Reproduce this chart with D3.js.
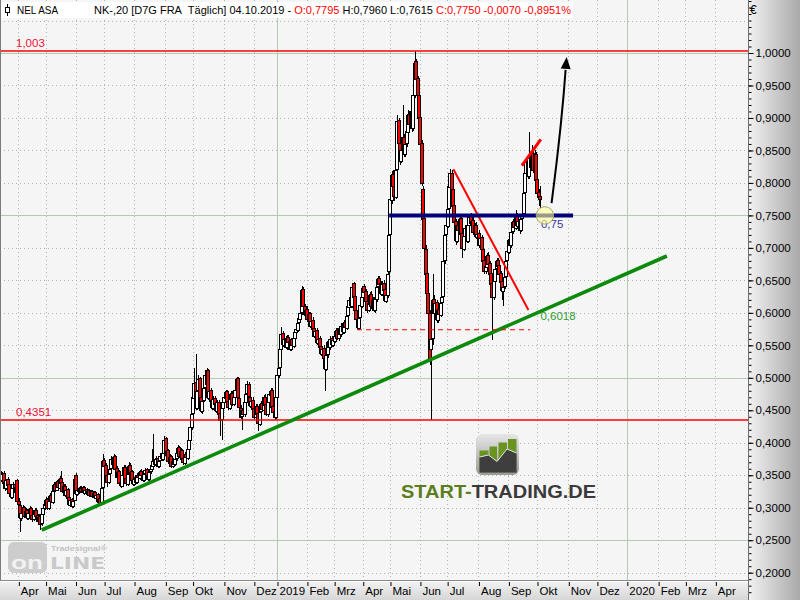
<!DOCTYPE html>
<html><head><meta charset="utf-8">
<script src="https://cdn.jsdelivr.net/npm/d3@7/dist/d3.min.js"></script>
<style>body{margin:0;background:#fff}svg{display:block}</style>
</head><body>
<svg id="c" width="800" height="600"></svg>
<script>
// ---------------- DATA ----------------
const startDate = "2018-03-14";
const endDate = "2020-05-01";
const holidays = ["2018-03-30","2018-04-02","2018-05-01","2018-12-24","2018-12-25","2018-12-26","2018-12-31",
  "2019-01-01","2019-04-19","2019-04-22","2019-05-01"];

const opens = [
 0.352,0.343,0.353,0.340,0.330,0.344,0.336,0.323,0.317,0.331,0.337,0.324,
 0.342,0.311,0.304,0.284,0.293,0.301,0.287,0.296,0.284,0.293,0.299,0.289,0.282,0.291,0.297,0.289,0.279,0.287,0.276,0.291,
 0.299,0.304,0.313,0.299,0.311,0.319,0.309,0.326,0.336,0.327,0.341,0.331,0.346,0.339,0.324,0.334,0.319,0.329,0.316,0.304,0.313,0.302,
 0.312,0.350,0.321,0.329,0.324,0.331,0.325,0.332,0.323,0.329,0.321,0.327,0.319,0.326,0.317,0.324,0.315,0.321,0.309,0.315,0.307,
 0.332,0.373,0.366,0.351,0.339,0.353,0.361,0.376,0.367,0.379,0.361,0.347,0.356,0.339,0.334,0.351,0.363,0.346,0.337,0.353,0.366,0.356,
 0.343,0.337,0.346,0.339,0.351,0.346,0.356,0.351,0.342,0.353,0.359,0.351,0.344,0.356,0.359,0.365,0.373,0.367,0.376,0.364,0.373,0.381,0.375,
 0.385,0.407,0.381,0.389,0.371,0.379,0.364,0.373,0.367,0.376,0.384,0.393,0.379,0.389,0.376,0.369,0.383,0.377,0.391,0.404,
 0.425,0.446,0.469,0.494,0.454,0.481,0.499,0.471,0.449,0.466,0.486,0.490,0.512,0.469,0.481,0.466,0.454,0.469,0.461,0.449,0.463,0.446,0.436,
 0.454,0.463,0.469,0.479,0.464,0.454,0.469,0.476,0.459,0.471,0.483,0.500,0.469,0.454,0.441,0.451,0.444,0.463,0.476,0.491,0.471,0.457,
 0.466,0.453,0.439,0.456,0.446,0.429,0.449,0.461,0.451,0.471,0.459,0.444,0.463,0.474,0.481,0.456,0.449,
 0.440,0.471,0.504,0.516,0.544,0.569,0.551,0.561,0.547,0.563,0.556,0.544,0.559,0.549,0.561,0.571,0.574,0.586,0.591,0.601,0.636,0.611,
 0.597,0.606,0.589,0.599,0.579,0.589,0.576,0.564,0.573,0.554,0.561,0.549,0.537,0.546,0.531,0.514,0.536,0.556,0.547,0.561,
 0.551,0.557,0.566,0.573,0.561,0.576,0.567,0.581,0.571,0.586,0.577,0.596,0.609,0.621,0.611,0.646,0.626,0.604,0.591,0.577,0.593,
 0.611,0.624,0.642,0.633,0.619,0.604,0.614,0.629,0.609,0.621,0.604,0.621,0.641,0.653,0.646,0.629,0.646,0.636,0.619,0.627,
 0.665,0.721,0.774,0.814,0.796,0.779,0.822,0.897,0.861,0.834,0.851,0.871,0.844,0.861,0.879,0.906,0.889,0.911,0.884,0.936,0.987,0.961,
 0.936,0.901,0.861,0.790,0.746,0.699,0.661,0.631,0.599,0.545,0.561,0.621,0.599,0.616,0.589,0.606,0.597,0.616,0.626,0.681,
 0.721,0.734,0.761,0.794,0.816,0.791,0.766,0.741,0.711,0.736,0.727,0.746,0.723,0.699,0.719,0.731,0.711,0.736,0.749,0.737,0.743,0.724,0.736,
 0.717,0.723,0.704,0.716,0.699,0.681,0.664,0.671,0.689,0.676,0.661,0.646,0.624,0.649,0.669,0.681,0.673,0.661,0.649,0.634,0.641,0.656,
 0.681,0.694,0.713,0.704,0.726,0.741,0.731,0.749,0.734,0.743,0.727,0.746,0.753,0.786,0.816,0.833,0.811,0.839,0.824,0.846,0.819,
 0.845,0.806,0.786,0.7795];
const highs = [
 0.356,0.355,0.356,0.342,0.345,0.347,0.338,0.326,0.333,0.340,0.339,0.336,
 0.345,0.315,0.307,0.296,0.304,0.303,0.299,0.298,0.295,0.302,0.301,0.292,0.294,0.300,0.299,0.291,0.290,0.289,0.294,0.304,
 0.309,0.316,0.315,0.313,0.322,0.321,0.328,0.339,0.338,0.343,0.344,0.349,0.356,0.341,0.336,0.336,0.331,0.331,0.318,0.315,0.315,0.313,
 0.348,0.353,0.331,0.332,0.334,0.333,0.334,0.334,0.331,0.331,0.329,0.329,0.328,0.328,0.326,0.326,0.323,0.323,0.317,0.318,0.334,
 0.382,0.376,0.369,0.354,0.356,0.364,0.380,0.379,0.383,0.381,0.364,0.359,0.358,0.342,0.354,0.366,0.366,0.349,0.356,0.370,0.369,0.358,
 0.346,0.348,0.349,0.353,0.354,0.358,0.359,0.353,0.355,0.361,0.361,0.353,0.358,0.363,0.390,0.414,0.377,0.379,0.379,0.375,0.384,0.385,0.389,
 0.410,0.409,0.392,0.391,0.382,0.381,0.376,0.375,0.379,0.389,0.396,0.395,0.392,0.391,0.379,0.386,0.385,0.394,0.409,0.430,
 0.450,0.476,0.515,0.537,0.486,0.505,0.502,0.474,0.470,0.490,0.510,0.515,0.514,0.485,0.484,0.469,0.472,0.472,0.464,0.466,0.466,0.449,0.459,
 0.466,0.474,0.482,0.482,0.468,0.471,0.479,0.479,0.473,0.486,0.502,0.502,0.472,0.458,0.454,0.454,0.466,0.479,0.495,0.494,0.474,0.469,
 0.470,0.457,0.459,0.460,0.449,0.452,0.464,0.465,0.474,0.475,0.462,0.466,0.479,0.484,0.485,0.460,0.452,
 0.474,0.509,0.519,0.550,0.578,0.572,0.565,0.564,0.566,0.566,0.559,0.562,0.562,0.566,0.574,0.580,0.589,0.596,0.605,0.642,0.640,0.614,
 0.610,0.610,0.602,0.602,0.592,0.593,0.580,0.576,0.577,0.564,0.565,0.553,0.549,0.550,0.535,0.539,0.559,0.560,0.564,0.565,
 0.562,0.569,0.576,0.577,0.579,0.580,0.584,0.585,0.589,0.590,0.599,0.614,0.624,0.625,0.644,0.648,0.629,0.608,0.594,0.596,0.616,
 0.629,0.642,0.645,0.636,0.622,0.619,0.632,0.633,0.624,0.625,0.626,0.644,0.656,0.657,0.649,0.649,0.650,0.639,0.632,0.664,
 0.728,0.782,0.818,0.820,0.800,0.826,0.905,0.900,0.866,0.856,0.920,0.876,0.866,0.886,0.912,0.910,0.917,0.915,0.942,1.003,0.990,0.965,
 0.940,0.910,0.866,0.795,0.752,0.705,0.668,0.640,0.604,0.570,0.660,0.628,0.622,0.620,0.610,0.612,0.619,0.630,0.686,0.728,
 0.740,0.765,0.800,0.822,0.820,0.795,0.770,0.745,0.740,0.740,0.750,0.750,0.727,0.722,0.735,0.735,0.739,0.752,0.753,0.746,0.747,0.739,0.740,
 0.727,0.727,0.719,0.720,0.703,0.686,0.676,0.692,0.693,0.680,0.665,0.650,0.654,0.672,0.684,0.685,0.676,0.665,0.652,0.645,0.660,0.684,
 0.699,0.716,0.717,0.729,0.744,0.745,0.758,0.753,0.746,0.747,0.749,0.756,0.790,0.820,0.838,0.836,0.878,0.842,0.858,0.850,0.850,
 0.848,0.810,0.790,0.796];
const lows = [
 0.340,0.340,0.335,0.325,0.328,0.332,0.318,0.314,0.314,0.328,0.322,0.321,
 0.306,0.300,0.262,0.280,0.290,0.284,0.284,0.281,0.281,0.290,0.284,0.278,0.279,0.288,0.285,0.276,0.276,0.266,0.272,0.287,
 0.296,0.301,0.297,0.296,0.308,0.307,0.306,0.322,0.325,0.325,0.329,0.329,0.335,0.322,0.321,0.317,0.316,0.312,0.302,0.301,0.299,0.299,
 0.310,0.319,0.318,0.321,0.322,0.323,0.323,0.320,0.321,0.319,0.319,0.317,0.317,0.315,0.314,0.313,0.312,0.306,0.306,0.303,0.305,
 0.330,0.362,0.347,0.332,0.336,0.349,0.358,0.364,0.364,0.357,0.344,0.344,0.335,0.330,0.332,0.348,0.342,0.334,0.334,0.350,0.352,0.338,
 0.333,0.334,0.337,0.336,0.344,0.343,0.347,0.339,0.339,0.350,0.347,0.341,0.341,0.352,0.355,0.362,0.364,0.364,0.361,0.361,0.370,0.372,0.372,
 0.381,0.379,0.377,0.368,0.367,0.361,0.361,0.364,0.364,0.372,0.381,0.376,0.376,0.371,0.366,0.366,0.374,0.374,0.388,0.400,
 0.420,0.441,0.465,0.450,0.450,0.476,0.466,0.446,0.445,0.462,0.482,0.487,0.466,0.466,0.461,0.451,0.451,0.457,0.446,0.446,0.440,0.410,0.404,
 0.450,0.459,0.466,0.461,0.450,0.451,0.465,0.456,0.456,0.468,0.480,0.466,0.451,0.436,0.420,0.440,0.440,0.460,0.472,0.468,0.453,0.453,
 0.448,0.436,0.436,0.441,0.418,0.426,0.445,0.448,0.448,0.454,0.441,0.440,0.460,0.470,0.451,0.444,0.435,
 0.436,0.466,0.500,0.512,0.540,0.548,0.548,0.544,0.543,0.551,0.541,0.541,0.546,0.546,0.557,0.566,0.571,0.582,0.588,0.597,0.605,0.593,
 0.592,0.586,0.585,0.576,0.575,0.571,0.561,0.560,0.551,0.551,0.544,0.534,0.533,0.526,0.480,0.510,0.531,0.544,0.543,0.548,
 0.547,0.553,0.562,0.558,0.557,0.564,0.563,0.568,0.567,0.574,0.573,0.592,0.605,0.608,0.607,0.621,0.601,0.586,0.574,0.574,0.589,
 0.607,0.620,0.628,0.614,0.600,0.601,0.611,0.606,0.605,0.601,0.600,0.617,0.637,0.641,0.626,0.626,0.631,0.616,0.615,0.623,
 0.660,0.715,0.768,0.790,0.772,0.775,0.818,0.855,0.828,0.830,0.846,0.840,0.840,0.856,0.875,0.884,0.884,0.878,0.880,0.930,0.952,0.928,
 0.895,0.855,0.795,0.740,0.694,0.655,0.622,0.592,0.520,0.4351,0.550,0.594,0.594,0.585,0.584,0.592,0.593,0.611,0.620,0.675,
 0.716,0.730,0.755,0.789,0.785,0.760,0.735,0.705,0.707,0.723,0.722,0.717,0.685,0.695,0.714,0.707,0.707,0.731,0.733,0.733,0.720,0.720,0.713,
 0.712,0.700,0.700,0.694,0.675,0.660,0.660,0.667,0.670,0.655,0.640,0.558,0.620,0.645,0.664,0.668,0.655,0.643,0.620,0.610,0.636,0.651,
 0.677,0.690,0.700,0.700,0.722,0.727,0.727,0.731,0.730,0.722,0.724,0.741,0.749,0.780,0.810,0.806,0.806,0.820,0.820,0.815,0.815,
 0.800,0.780,0.765,0.7615];
const closes = [
 0.345,0.352,0.338,0.330,0.342,0.335,0.322,0.318,0.330,0.336,0.325,0.332,
 0.310,0.305,0.285,0.292,0.300,0.288,0.295,0.285,0.292,0.298,0.288,0.283,0.290,0.296,0.288,0.280,0.286,0.275,0.290,0.300,
 0.305,0.312,0.300,0.310,0.318,0.310,0.325,0.335,0.328,0.340,0.332,0.345,0.338,0.325,0.333,0.320,0.328,0.315,0.305,0.312,0.303,0.310,
 0.345,0.322,0.328,0.325,0.330,0.326,0.331,0.324,0.328,0.322,0.326,0.320,0.325,0.318,0.323,0.316,0.320,0.310,0.314,0.308,0.330,
 0.372,0.365,0.350,0.340,0.352,0.360,0.375,0.368,0.378,0.360,0.348,0.355,0.338,0.335,0.350,0.362,0.345,0.338,0.352,0.365,0.355,0.342,
 0.338,0.345,0.340,0.350,0.347,0.355,0.350,0.343,0.352,0.358,0.350,0.345,0.355,0.360,0.366,0.372,0.368,0.375,0.365,0.372,0.380,0.376,0.385,
 0.405,0.382,0.388,0.372,0.378,0.365,0.372,0.368,0.375,0.385,0.392,0.380,0.388,0.375,0.370,0.382,0.378,0.390,0.405,0.425,
 0.445,0.470,0.492,0.455,0.480,0.498,0.470,0.450,0.465,0.485,0.505,0.512,0.470,0.480,0.465,0.455,0.468,0.460,0.450,0.462,0.445,0.435,0.455,
 0.462,0.470,0.478,0.465,0.455,0.468,0.475,0.460,0.470,0.482,0.498,0.470,0.455,0.440,0.450,0.445,0.462,0.475,0.490,0.472,0.458,0.465,
 0.452,0.440,0.455,0.445,0.430,0.448,0.460,0.452,0.470,0.458,0.445,0.462,0.475,0.480,0.455,0.448,0.440,
 0.470,0.505,0.515,0.545,0.568,0.552,0.560,0.548,0.562,0.555,0.545,0.558,0.550,0.562,0.570,0.575,0.585,0.592,0.600,0.635,0.610,0.598,
 0.605,0.590,0.598,0.580,0.588,0.575,0.565,0.572,0.555,0.560,0.548,0.538,0.545,0.530,0.515,0.535,0.555,0.548,0.560,0.552,
 0.558,0.565,0.572,0.562,0.575,0.568,0.580,0.572,0.585,0.578,0.595,0.610,0.620,0.612,0.640,0.625,0.605,0.590,0.578,0.592,0.612,
 0.625,0.638,0.632,0.618,0.605,0.615,0.628,0.610,0.620,0.605,0.622,0.640,0.652,0.645,0.630,0.645,0.635,0.620,0.628,0.660,
 0.720,0.775,0.812,0.795,0.780,0.820,0.895,0.862,0.835,0.850,0.870,0.845,0.860,0.880,0.905,0.890,0.910,0.885,0.935,0.985,0.960,0.935,
 0.900,0.860,0.800,0.745,0.700,0.660,0.630,0.600,0.530,0.560,0.620,0.600,0.615,0.590,0.605,0.598,0.615,0.625,0.680,0.720,
 0.735,0.760,0.795,0.815,0.790,0.765,0.740,0.712,0.735,0.728,0.745,0.722,0.700,0.718,0.730,0.712,0.735,0.748,0.738,0.742,0.725,0.735,0.718,
 0.722,0.705,0.715,0.698,0.680,0.665,0.672,0.688,0.675,0.660,0.645,0.625,0.650,0.668,0.680,0.672,0.660,0.648,0.635,0.640,0.655,0.680,
 0.695,0.712,0.705,0.725,0.740,0.732,0.748,0.735,0.742,0.728,0.745,0.752,0.785,0.815,0.832,0.812,0.838,0.825,0.845,0.820,0.845,
 0.805,0.785,0.778,0.775];

const monthKeys = ["2018-04","2018-05","2018-06","2018-07","2018-08","2018-09","2018-10","2018-11","2018-12",
  "2019-01","2019-02","2019-03","2019-04","2019-05","2019-06","2019-07","2019-08","2019-09","2019-10","2019-11","2019-12",
  "2020-01","2020-02","2020-03","2020-04"];
const monthLabels = ["Apr","Mai","Jun","Jul","Aug","Sep","Okt","Nov","Dez","2019","Feb","Mrz","Apr","Mai","Jun","Jul",
  "Aug","Sep","Okt","Nov","Dez","2020","Feb","Mrz","Apr"];
const yearKeys = ["2019-01","2020-01"];
const priceTicks = [0.20,0.25,0.30,0.35,0.40,0.45,0.50,0.55,0.60,0.65,0.70,0.75,0.80,0.85,0.90,0.95,1.00];
const solidLevels = [0.25,0.50,0.75,1.00];

// annotations: [tradingDayIndex, price]
const hLevels = [1.003, 0.4351];
const hLevelLabels = ["1,003","0,4351"];
const supportLine = [[284.4,0.75],[419.5,0.75]];
const supportLabel = "0,75";
const trendLine = [[29.2,0.2657],[488.4,0.6875]];
const trendLabelAt = [395.5,0.6018];
const trendLabel = "0,6018";
const dashedLine = [[260.8,0.574],[388,0.574]];
const downLine = [[331.6,0.821],[386.7,0.6044]];
const topLine = [[381.9,0.8265],[395.8,0.867]];
const arrowPath = [[403.7,0.769],[406.3,0.812],[408.5,0.851],[410.7,0.894],[412.6,0.935],[414.0,0.974],[414.8,0.994]];
const circleAt = [398.8,0.75];

const header = {name:"NEL ASA", pre:"NK-,20 [D7G FRA\u00a0 Täglich] 04.10.2019 - ", o:"O:0,7795", mid:" H:0,7960 L:0,7615 ", c:"C:0,7750 -0,0070 -0,8951%"};

// ---------------- CALENDAR ----------------
const hol = new Set(holidays);
const days = [];
for (let t = Date.parse(startDate+"T00:00:00Z"); t < Date.parse(endDate+"T00:00:00Z"); t += 864e5) {
  const d = new Date(t), wd = d.getUTCDay(), s = d.toISOString().slice(0,10);
  if (wd > 0 && wd < 6 && !hol.has(s)) days.push(s);
}
const idxOfMonth = k => days.findIndex(s => s.startsWith(k));

// ---------------- SCALES ----------------
const W = 800, H = 600, plotR = 748, plotB = 580;
const xs = d3.scaleLinear().domain([0, 548]).range([2, 748]);
const ys = d3.scaleLinear().domain([0.2, 1.0]).range([572.7, 53]);
const fmt4 = v => d3.format(".4f")(v).replace(".", ",");
const FONT = "Liberation Sans, Arial, sans-serif";

const svg = d3.select("#c");
const defs = svg.append("defs");
const gr = defs.append("linearGradient").attr("id","rg").attr("x1","0").attr("x2","1").attr("y1","0").attr("y2","0");
gr.append("stop").attr("offset","0").attr("stop-color","#f2f2f2");
gr.append("stop").attr("offset","1").attr("stop-color","#a9a9a9");
const gb = defs.append("linearGradient").attr("id","bg2").attr("x1","0").attr("x2","0").attr("y1","0").attr("y2","1");
gb.append("stop").attr("offset","0").attr("stop-color","#f4f4f4");
gb.append("stop").attr("offset","1").attr("stop-color","#d6d6d6");
const gi = defs.append("linearGradient").attr("id","ig").attr("x1","0").attr("x2","0").attr("y1","0").attr("y2","1");
gi.append("stop").attr("offset","0").attr("stop-color","#e6e6e6");
gi.append("stop").attr("offset","1").attr("stop-color","#9a9a9a");
defs.append("clipPath").attr("id","clip").append("rect").attr("x",0).attr("y",0).attr("width",plotR).attr("height",plotB);

// backgrounds
svg.append("rect").attr("width",W).attr("height",H).attr("fill","#f5f5f5");
svg.append("rect").attr("x",plotR).attr("y",0).attr("width",W-plotR).attr("height",H).attr("fill","url(#rg)");
svg.append("rect").attr("x",0).attr("y",plotB).attr("width",plotR).attr("height",H-plotB).attr("fill","url(#bg2)");

const plot = svg.append("g").attr("clip-path","url(#clip)");
const crisp = v => Math.round(v) + 0.5;

// grid horizontals
const gridVals = d3.range(4, 22).map(k => +(k*0.05).toFixed(2));
plot.selectAll("line.hg").data(gridVals).join("line")
  .attr("x1",0).attr("x2",plotR).attr("y1",d=>crisp(ys(d))).attr("y2",d=>crisp(ys(d)))
  .attr("stroke", d => solidLevels.includes(d) ? "#b3cbb3" : "#a6baa6")
  .attr("stroke-dasharray", d => solidLevels.includes(d) ? null : "1,3");
// grid verticals
const mIdx = monthKeys.map(idxOfMonth);
plot.selectAll("line.vg").data(monthKeys).join("line")
  .attr("x1",(d,i)=>crisp(xs(mIdx[i]))).attr("x2",(d,i)=>crisp(xs(mIdx[i]))).attr("y1",0).attr("y2",plotB)
  .attr("stroke", d => yearKeys.includes(d) ? "#b3cbb3" : "#a6baa6")
  .attr("stroke-dasharray", d => yearKeys.includes(d) ? null : "1,3");

// watermarks
const wm = plot.append("g");
wm.append("rect").attr("x",476).attr("y",434).attr("width",43).attr("height",41).attr("rx",6).attr("fill","url(#ig)");
[[479.5,488.5,450.5],[489.5,497,446.5],[498.5,507,442.5],[508,516.5,439]].forEach(b=>{
  wm.append("rect").attr("x",b[0]).attr("y",b[2]).attr("width",b[1]-b[0]).attr("height",472.5-b[2]).attr("fill","#6a9420");
});
wm.append("path").attr("d","M479.5,457 L488.5,455 L497,461.5 L507,449 L516.5,453 L516.5,472.5 L479.5,472.5 Z").attr("fill","#3e3e3e");
wm.append("path").attr("d","M479.5,457 L488.5,455 L497,461.5 L507,449 L516.5,453").attr("fill","none").attr("stroke","#e8e8e8").attr("stroke-width",1);
const st = wm.append("text").attr("x",401).attr("y",497.5).attr("font-family",FONT)
  .attr("font-weight","bold").attr("font-size",19).attr("textLength",195).attr("lengthAdjust","spacingAndGlyphs");
st.append("tspan").attr("fill","#5b7d1c").text("START-");
st.append("tspan").attr("fill","#3a3a3a").text("TRADING.DE");
// tradesignal logo
wm.append("rect").attr("x",8).attr("y",542).attr("width",39).attr("height",31).attr("rx",6).attr("fill","#cdcdcd");
wm.append("text").attr("x",11).attr("y",569).attr("font-family",FONT).attr("font-weight","bold")
  .attr("font-size",19).attr("fill","#f2f2f2").attr("textLength",32).attr("lengthAdjust","spacingAndGlyphs").text("on");
wm.append("text").attr("x",50).attr("y",569).attr("font-family","DejaVu Sans, sans-serif").attr("font-weight","bold")
  .attr("font-size",15).attr("fill","#c9c9c9").attr("textLength",55).attr("lengthAdjust","spacingAndGlyphs").text("LINE");
wm.append("text").attr("x",51).attr("y",551).attr("font-family",FONT).attr("font-weight","bold")
  .attr("font-size",7).attr("fill","#c4c4c4").attr("textLength",56).attr("lengthAdjust","spacingAndGlyphs").text("Tradesignal®");

// candles
const data = closes.map((c,i)=>({i, o:opens[i], h:highs[i], l:lows[i], c}));
const cg = plot.append("g").selectAll("g").data(data).join("g");
cg.append("line")
  .attr("x1",d=>Math.round(xs(d.i))-0.5).attr("x2",d=>Math.round(xs(d.i))-0.5)
  .attr("y1",d=>Math.round(ys(d.h))).attr("y2",d=>Math.round(ys(d.l)))
  .attr("stroke","#000").attr("stroke-width",1);
cg.append("rect")
  .attr("x",d=>Math.round(xs(d.i))-2.5).attr("width",3)
  .attr("y",d=>Math.round(ys(Math.max(d.o,d.c)))+0.5)
  .attr("height",d=>Math.max(1, Math.round(ys(Math.min(d.o,d.c))) - Math.round(ys(Math.max(d.o,d.c)))))
  .attr("fill",d=> d.c < d.o ? "#ff0000" : "#ffffff").attr("stroke","#000").attr("stroke-width",1);

// annotations
const ln = d3.line().x(d=>xs(d[0])).y(d=>ys(d[1]));
plot.selectAll("line.hl").data(hLevels).join("line")
  .attr("x1",0).attr("x2",plotR).attr("y1",d=>ys(d)).attr("y2",d=>ys(d)).attr("stroke","#ff0000").attr("stroke-width",1.6);
plot.selectAll("text.hl").data(hLevels).join("text")
  .attr("x",16).attr("y",d=>ys(d)-4).attr("fill","#ee1133").attr("font-size",11.5)
  .attr("font-family",FONT).text((d,i)=>hLevelLabels[i]);
plot.append("path").attr("d",ln(trendLine)).attr("stroke","#0b8a0b").attr("stroke-width",3.6).attr("fill","none");
plot.append("text").attr("x",xs(trendLabelAt[0])).attr("y",ys(trendLabelAt[1])+8).attr("fill","#2f9e2f")
  .attr("font-size",11.5).attr("font-family",FONT).text(trendLabel);
plot.append("path").attr("d",ln(dashedLine)).attr("stroke","#ff0000").attr("stroke-width",1.2).attr("stroke-dasharray","5,4").attr("fill","none");
plot.append("path").attr("d",ln(downLine)).attr("stroke","#ff0000").attr("stroke-width",2).attr("fill","none");
plot.append("path").attr("d",ln(topLine)).attr("stroke","#ff0000").attr("stroke-width",3).attr("fill","none");
plot.append("path").attr("d",ln(supportLine)).attr("stroke","#00007a").attr("stroke-width",4).attr("fill","none");
plot.append("text").attr("x",xs(circleAt[0])-4).attr("y",ys(circleAt[1])+13).attr("fill","#3a3aa0")
  .attr("font-size",11.5).attr("font-family",FONT).text(supportLabel);
plot.append("circle").attr("cx",xs(circleAt[0])).attr("cy",ys(circleAt[1])).attr("r",8.7)
  .attr("fill","rgba(255,255,150,0.6)").attr("stroke","#a8a870").attr("stroke-width",1);
// arrow
const arrLine = d3.line().x(d=>xs(d[0])).y(d=>ys(d[1])).curve(d3.curveBasis);
plot.append("path").attr("d",arrLine(arrowPath.slice(0,-1))).attr("stroke","#000").attr("stroke-width",2).attr("fill","none");
{
  const a = arrowPath[arrowPath.length-2], b = arrowPath[arrowPath.length-1];
  const ax = xs(a[0]), ay = ys(a[1]), bx = xs(b[0]), by = ys(b[1]);
  const L = Math.hypot(bx-ax, by-ay), ux = (bx-ax)/L, uy = (by-ay)/L;
  const baseX = bx - ux*12, baseY = by - uy*12;
  plot.append("path").attr("d",`M${bx},${by} L${baseX - uy*5},${baseY + ux*5} L${baseX + uy*5},${baseY - ux*5} Z`).attr("fill","#000");
}

// header
const hg = svg.append("g");
hg.append("rect").attr("x",1).attr("y",2).attr("width",572).attr("height",16).attr("fill","#ffffff");
hg.append("line").attr("x1",7.5).attr("x2",7.5).attr("y1",4).attr("y2",16).attr("stroke","#000");
hg.append("rect").attr("x",5.5).attr("y",7.5).attr("width",4).attr("height",5).attr("fill","#fff").attr("stroke","#000");
hg.append("text").attr("x",17).attr("y",14).attr("font-size",11).attr("font-family",FONT)
  .attr("textLength",41).attr("lengthAdjust","spacingAndGlyphs").text(header.name);
const ht = hg.append("text").attr("x",94).attr("y",14).attr("font-size",11).attr("font-family",FONT)
  .attr("textLength",477).attr("lengthAdjust","spacingAndGlyphs").style("white-space","pre");
ht.append("tspan").attr("fill","#000").text(header.pre);
ht.append("tspan").attr("fill","#ff0000").text(header.o);
ht.append("tspan").attr("fill","#000").text(header.mid);
ht.append("tspan").attr("fill","#ff0000").text(header.c);

// borders
svg.append("line").attr("x1",0.5).attr("x2",0.5).attr("y1",0).attr("y2",plotB).attr("stroke","#7a7a7a");
svg.append("line").attr("x1",0).attr("x2",plotR).attr("y1",plotB+0.5).attr("y2",plotB+0.5).attr("stroke","#8a8a8a");
svg.append("line").attr("x1",0).attr("x2",plotR).attr("y1",plotB+1.5).attr("y2",plotB+1.5).attr("stroke","#ffffff");

// right axis
const minor = d3.range(17, 109).map(k => k/100);
const ra = svg.append("g").attr("transform",`translate(${plotR+0.5},0)`);
ra.call(d3.axisRight(ys).tickValues(minor).tickSize(3).tickFormat(""));
const raMaj = svg.append("g").attr("transform",`translate(${plotR+0.5},0)`);
raMaj.call(d3.axisRight(ys).tickValues(priceTicks).tickSize(5).tickPadding(2).tickFormat(fmt4));
[ra, raMaj].forEach(g => { g.select(".domain").attr("stroke","#6e6e6e").attr("d",`M0,0V${H}`); g.selectAll(".tick line").attr("stroke","#000"); });
raMaj.selectAll("text").attr("font-size",11.5).attr("font-family",FONT).attr("fill","#000");
svg.append("text").attr("x",750).attr("y",14).attr("font-size",12).attr("font-family",FONT).text("€");

// bottom axis
const ba = svg.append("g").attr("transform",`translate(0,${plotB+2})`);
ba.call(d3.axisBottom(xs).tickValues(mIdx).tickSize(4).tickFormat((d,i)=>monthLabels[i]));
ba.select(".domain").remove();
ba.selectAll(".tick line").attr("stroke","#000").attr("transform","translate(0.5,0)");
ba.selectAll(".tick text").attr("text-anchor","start").attr("x",2).attr("y",5).attr("dy","0.71em")
  .attr("font-size",11.5).attr("font-family",FONT).attr("fill","#000");
</script>
</body></html>
